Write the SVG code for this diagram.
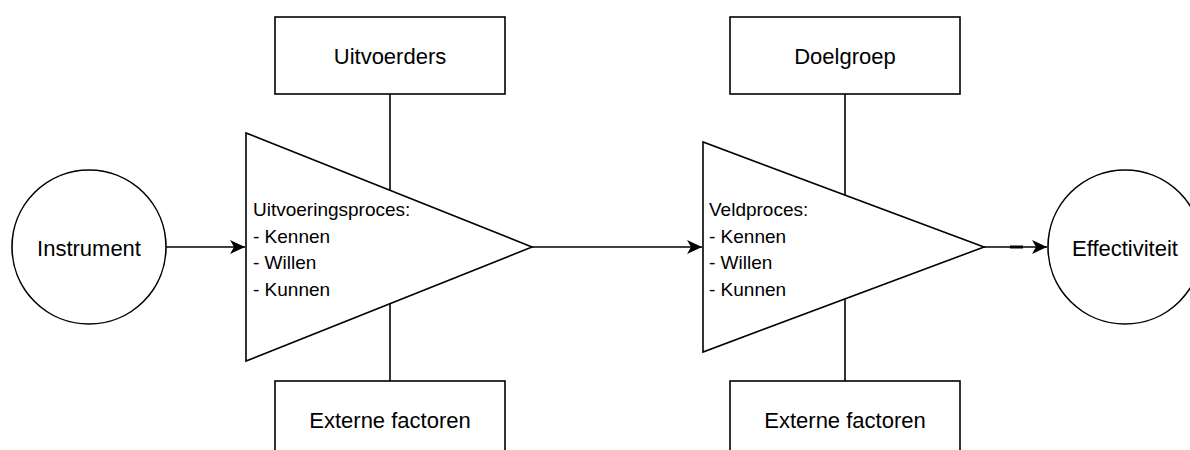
<svg xmlns="http://www.w3.org/2000/svg" width="1190" height="450" viewBox="0 0 1190 450">
<style>
.s{fill:#fff;stroke:#000;stroke-width:1.6}
.c{fill:none;stroke:#000;stroke-width:1.6}
.l{font-family:"Liberation Sans",Arial,sans-serif;font-size:22px;fill:#000;text-anchor:middle}
.t{font-family:"Liberation Sans",Arial,sans-serif;font-size:19px;fill:#000}
</style>
<defs>
<marker id="a" markerWidth="16" markerHeight="14" refX="15" refY="7" orient="auto" markerUnits="userSpaceOnUse">
<path d="M0,0 L15,7 L0,14 L4,7 Z" fill="#000"/>
</marker>
</defs>
<g id="connectors">
<line class="c" x1="390" y1="94" x2="390" y2="381"/>
<line class="c" x1="845" y1="94" x2="845" y2="381"/>
<line class="c" x1="166" y1="247" x2="245" y2="247" marker-end="url(#a)"/>
<line class="c" x1="532" y1="247" x2="702" y2="247" marker-end="url(#a)"/>
<line class="c" x1="984" y1="247" x2="1047" y2="247" marker-end="url(#a)"/>
<line x1="1010" y1="247" x2="1023" y2="247" stroke="#000" stroke-width="3"/>
</g>
<g id="instrument">
<circle class="s" cx="89" cy="247" r="77"/>
<text class="l" x="89" y="255.5">Instrument</text>
</g>
<g id="uitvoerders">
<rect class="s" x="275" y="17" width="230" height="77"/>
<text class="l" x="390" y="64">Uitvoerders</text>
</g>
<g id="externe1">
<rect class="s" x="275" y="381" width="230" height="77"/>
<text class="l" x="390" y="428">Externe factoren</text>
</g>
<g id="uitvoeringsproces">
<polygon class="s" points="246,133 246,361 532,247"/>
<text class="t" x="253" y="216">Uitvoeringsproces:</text>
<text class="t" x="253" y="242.5">- Kennen</text>
<text class="t" x="253" y="269">- Willen</text>
<text class="t" x="253" y="295.5">- Kunnen</text>
</g>
<g id="doelgroep">
<rect class="s" x="730" y="17" width="230" height="77"/>
<text class="l" x="845" y="64">Doelgroep</text>
</g>
<g id="externe2">
<rect class="s" x="730" y="381" width="230" height="77"/>
<text class="l" x="845" y="428">Externe factoren</text>
</g>
<g id="veldproces">
<polygon class="s" points="703,142 703,352 984,247"/>
<text class="t" x="709" y="216">Veldproces:</text>
<text class="t" x="709" y="242.5">- Kennen</text>
<text class="t" x="709" y="269">- Willen</text>
<text class="t" x="709" y="295.5">- Kunnen</text>
</g>
<g id="effectiviteit">
<circle class="s" cx="1125" cy="247" r="77"/>
<text class="l" x="1125" y="255.5">Effectiviteit</text>
</g>
</svg>
